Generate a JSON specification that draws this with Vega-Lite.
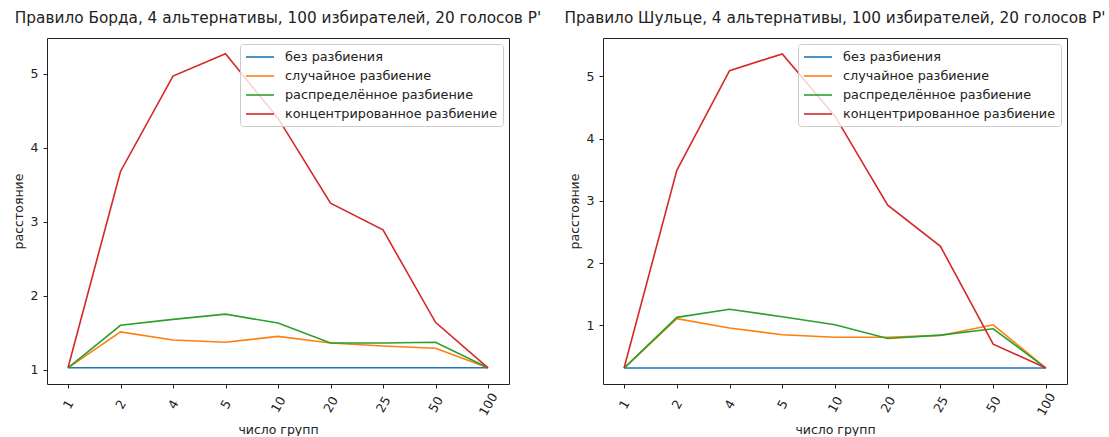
{
  "$schema": "https://vega.github.io/schema/vega-lite/v6.json",
  "padding": {"left": 11, "top": 10, "right": 0, "bottom": 0},
  "bounds": "flush",
  "spacing": 94,
  "resolve": {"scale": {"color": "independent"}, "legend": {"color": "independent"}},
  "config": {
    "font": "DejaVu Sans",
    "view": {"stroke": "#222", "strokeWidth": 1},
    "axis": {"grid": false, "domain": false, "tickColor": "#222", "tickSize": 4, "labelFont": "DejaVu Sans", "labelFontSize": 12.5, "labelColor": "#222", "titleFont": "DejaVu Sans", "titleFontSize": 12.5, "titleFontWeight": "normal", "titleColor": "#222"},
    "legend": {"orient": "top-right", "offset": 6, "symbolType": "M-1,0H3", "symbolSize": 196, "symbolStrokeWidth": 1.6, "labelFont": "DejaVu Sans", "labelFontSize": 12.8, "labelColor": "#222", "labelOffset": 24, "rowPadding": 4, "padding": 5, "fillColor": "rgba(255,255,255,0.8)", "strokeColor": "#cccccc", "cornerRadius": 3, "labelLimit": 400},
    "title": {"font": "DejaVu Sans", "fontSize": 15.3, "fontWeight": "normal", "color": "#222", "baseline": "middle", "offset": 12, "anchor": "middle"}
  },
  "hconcat": [
    {
      "width": 462,
      "height": 346,
      "title": "Правило Борда, 4 альтернативы, 100 избирателей, 20 голосов P'",
      "data": {"values": [
        {"n": "1", "method": "без разбиения", "d": 1.025},
        {"n": "2", "method": "без разбиения", "d": 1.025},
        {"n": "4", "method": "без разбиения", "d": 1.025},
        {"n": "5", "method": "без разбиения", "d": 1.025},
        {"n": "10", "method": "без разбиения", "d": 1.025},
        {"n": "20", "method": "без разбиения", "d": 1.025},
        {"n": "25", "method": "без разбиения", "d": 1.025},
        {"n": "50", "method": "без разбиения", "d": 1.025},
        {"n": "100", "method": "без разбиения", "d": 1.025},
        {"n": "1", "method": "случайное разбиение", "d": 1.025},
        {"n": "2", "method": "случайное разбиение", "d": 1.51},
        {"n": "4", "method": "случайное разбиение", "d": 1.40},
        {"n": "5", "method": "случайное разбиение", "d": 1.37},
        {"n": "10", "method": "случайное разбиение", "d": 1.45},
        {"n": "20", "method": "случайное разбиение", "d": 1.36},
        {"n": "25", "method": "случайное разбиение", "d": 1.32},
        {"n": "50", "method": "случайное разбиение", "d": 1.29},
        {"n": "100", "method": "случайное разбиение", "d": 1.025},
        {"n": "1", "method": "распределённое разбиение", "d": 1.025},
        {"n": "2", "method": "распределённое разбиение", "d": 1.60},
        {"n": "4", "method": "распределённое разбиение", "d": 1.68},
        {"n": "5", "method": "распределённое разбиение", "d": 1.75},
        {"n": "10", "method": "распределённое разбиение", "d": 1.63},
        {"n": "20", "method": "распределённое разбиение", "d": 1.36},
        {"n": "25", "method": "распределённое разбиение", "d": 1.36},
        {"n": "50", "method": "распределённое разбиение", "d": 1.37},
        {"n": "100", "method": "распределённое разбиение", "d": 1.025},
        {"n": "1", "method": "концентрированное разбиение", "d": 1.025},
        {"n": "2", "method": "концентрированное разбиение", "d": 3.68},
        {"n": "4", "method": "концентрированное разбиение", "d": 4.97},
        {"n": "5", "method": "концентрированное разбиение", "d": 5.27},
        {"n": "10", "method": "концентрированное разбиение", "d": 4.40},
        {"n": "20", "method": "концентрированное разбиение", "d": 3.25},
        {"n": "25", "method": "концентрированное разбиение", "d": 2.89},
        {"n": "50", "method": "концентрированное разбиение", "d": 1.64},
        {"n": "100", "method": "концентрированное разбиение", "d": 1.025}
      ]},
      "mark": {"type": "line", "strokeWidth": 1.6},
      "encoding": {
        "x": {"field": "n", "type": "ordinal", "sort": ["1", "2", "4", "5", "10", "20", "25", "50", "100"], "scale": {"type": "point", "padding": 0.4}, "title": "число групп", "axis": {"labelAngle": -60, "labelAlign": "center", "labelBaseline": "middle", "labelPadding": 16, "titleY": 45, "titleBaseline": "middle"}},
        "y": {"field": "d", "type": "quantitative", "scale": {"domain": [0.806, 5.484], "nice": false, "zero": false}, "title": "расстояние", "axis": {"values": [1, 2, 3, 4, 5], "labelPadding": 5, "titleX": -29, "titleBaseline": "middle"}},
        "color": {"field": "method", "type": "nominal", "sort": null, "scale": {"domain": ["без разбиения", "случайное разбиение", "распределённое разбиение", "концентрированное разбиение"], "range": ["#1f77b4", "#ff7f0e", "#2ca02c", "#d62728"]}, "legend": {"title": null}}
      }
    },
    {
      "width": 464,
      "height": 346,
      "title": "Правило Шульце, 4 альтернативы, 100 избирателей, 20 голосов P'",
      "data": {"values": [
        {"n": "1", "method": "без разбиения", "d": 0.316},
        {"n": "2", "method": "без разбиения", "d": 0.316},
        {"n": "4", "method": "без разбиения", "d": 0.316},
        {"n": "5", "method": "без разбиения", "d": 0.316},
        {"n": "10", "method": "без разбиения", "d": 0.316},
        {"n": "20", "method": "без разбиения", "d": 0.316},
        {"n": "25", "method": "без разбиения", "d": 0.316},
        {"n": "50", "method": "без разбиения", "d": 0.316},
        {"n": "100", "method": "без разбиения", "d": 0.316},
        {"n": "1", "method": "случайное разбиение", "d": 0.316},
        {"n": "2", "method": "случайное разбиение", "d": 1.11},
        {"n": "4", "method": "случайное разбиение", "d": 0.96},
        {"n": "5", "method": "случайное разбиение", "d": 0.85},
        {"n": "10", "method": "случайное разбиение", "d": 0.81},
        {"n": "20", "method": "случайное разбиение", "d": 0.81},
        {"n": "25", "method": "случайное разбиение", "d": 0.84},
        {"n": "50", "method": "случайное разбиение", "d": 1.01},
        {"n": "100", "method": "случайное разбиение", "d": 0.316},
        {"n": "1", "method": "распределённое разбиение", "d": 0.316},
        {"n": "2", "method": "распределённое разбиение", "d": 1.13},
        {"n": "4", "method": "распределённое разбиение", "d": 1.26},
        {"n": "5", "method": "распределённое разбиение", "d": 1.14},
        {"n": "10", "method": "распределённое разбиение", "d": 1.01},
        {"n": "20", "method": "распределённое разбиение", "d": 0.79},
        {"n": "25", "method": "распределённое разбиение", "d": 0.845},
        {"n": "50", "method": "распределённое разбиение", "d": 0.946},
        {"n": "100", "method": "распределённое разбиение", "d": 0.316},
        {"n": "1", "method": "концентрированное разбиение", "d": 0.316},
        {"n": "2", "method": "концентрированное разбиение", "d": 3.49},
        {"n": "4", "method": "концентрированное разбиение", "d": 5.09},
        {"n": "5", "method": "концентрированное разбиение", "d": 5.36},
        {"n": "10", "method": "концентрированное разбиение", "d": 4.36},
        {"n": "20", "method": "концентрированное разбиение", "d": 2.93},
        {"n": "25", "method": "концентрированное разбиение", "d": 2.27},
        {"n": "50", "method": "концентрированное разбиение", "d": 0.70},
        {"n": "100", "method": "концентрированное разбиение", "d": 0.316}
      ]},
      "mark": {"type": "line", "strokeWidth": 1.6},
      "encoding": {
        "x": {"field": "n", "type": "ordinal", "sort": ["1", "2", "4", "5", "10", "20", "25", "50", "100"], "scale": {"type": "point", "padding": 0.4}, "title": "число групп", "axis": {"labelAngle": -60, "labelAlign": "center", "labelBaseline": "middle", "labelPadding": 16, "titleY": 45, "titleBaseline": "middle"}},
        "y": {"field": "d", "type": "quantitative", "scale": {"domain": [0.06, 5.615], "nice": false, "zero": false}, "title": "расстояние", "axis": {"values": [1, 2, 3, 4, 5], "labelPadding": 5, "titleX": -29, "titleBaseline": "middle"}},
        "color": {"field": "method", "type": "nominal", "sort": null, "scale": {"domain": ["без разбиения", "случайное разбиение", "распределённое разбиение", "концентрированное разбиение"], "range": ["#1f77b4", "#ff7f0e", "#2ca02c", "#d62728"]}, "legend": {"title": null}}
      }
    }
  ]
}
